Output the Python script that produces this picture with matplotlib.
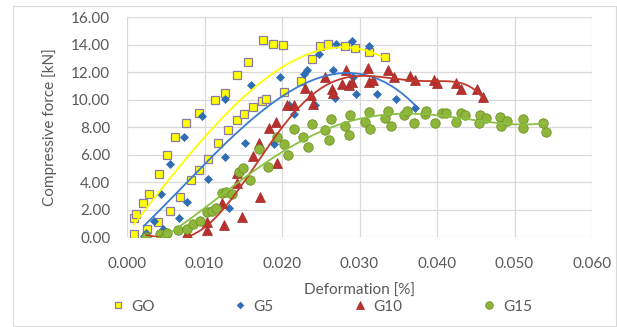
import numpy as np
import matplotlib
matplotlib.use("Agg")
import matplotlib.pyplot as plt
from matplotlib.patches import Rectangle

plt.rcParams['font.family'] = ['Lato', 'DejaVu Sans']

# ---- data (deformation [%], compressive force [kN]) ----
go_x = [0.0009,0.0009,0.0012,0.0021,0.0026,0.0028,0.0040,0.0041,0.0051,0.0056,0.0062,0.0069,0.0076,0.0082,0.0093,0.0093,0.0104,0.0113,0.0117,0.0126,0.0130,0.0142,0.0142,0.0151,0.0156,0.0163,0.0174,0.0176,0.0179,0.0189,0.0201,0.0202,0.0225,0.0239,0.0249,0.0259,0.0281,0.0294,0.0312,0.0333]
go_y = [0.22,1.43,1.72,2.47,0.63,3.13,1.09,4.60,5.96,1.92,7.32,2.93,8.29,4.17,9.02,4.87,5.70,9.99,6.84,10.47,7.81,11.80,8.53,8.97,12.73,9.48,9.92,14.33,10.04,14.08,14.01,10.59,11.35,12.95,13.94,14.04,13.92,13.75,13.50,13.09]

g5_x = [0.0022,0.0025,0.0035,0.0044,0.0047,0.0056,0.0067,0.0074,0.0078,0.0097,0.0104,0.0127,0.0127,0.0131,0.0152,0.0160,0.0190,0.0197,0.0209,0.0215,0.0229,0.0232,0.0242,0.0248,0.0266,0.0269,0.0270,0.0290,0.0292,0.0296,0.0312,0.0322,0.0347,0.0372]
g5_y = [0.10,0.34,1.19,3.13,0.63,5.31,1.38,7.32,2.59,8.85,4.24,10.08,5.87,2.16,6.88,11.08,6.79,11.68,9.62,8.95,11.88,12.17,9.60,13.33,12.17,10.16,14.08,14.28,11.64,10.40,13.94,10.40,10.04,9.43]

g10_x = [0.0025,0.0050,0.0078,0.0103,0.0103,0.0123,0.0125,0.0142,0.0142,0.0149,0.0162,0.0170,0.0172,0.0183,0.0192,0.0194,0.0206,0.0215,0.0230,0.0237,0.0240,0.0256,0.0264,0.0266,0.0278,0.0283,0.0287,0.0290,0.0311,0.0312,0.0317,0.0337,0.0345,0.0365,0.0371,0.0396,0.0400,0.0425,0.0431,0.0451,0.0459]
g10_y = [0.05,0.05,0.29,1.14,0.53,2.47,0.90,4.65,3.93,1.50,5.92,6.84,2.91,7.98,8.41,5.38,9.62,9.62,10.84,10.35,9.70,11.66,10.76,10.52,11.18,12.17,11.08,11.32,12.29,11.32,11.44,12.17,11.64,11.73,11.44,11.44,11.25,11.25,10.76,10.76,10.23]

g15_x = [0.0024,0.0042,0.0049,0.0051,0.0066,0.0077,0.0085,0.0094,0.0103,0.0110,0.0115,0.0122,0.0128,0.0135,0.0145,0.0150,0.0159,0.0170,0.0182,0.0194,0.0202,0.0208,0.0215,0.0227,0.0234,0.0239,0.0255,0.0261,0.0263,0.0281,0.0286,0.0288,0.0307,0.0312,0.0314,0.0333,0.0337,0.0341,0.0358,0.0361,0.0370,0.0384,0.0386,0.0397,0.0406,0.0412,0.0425,0.0431,0.0436,0.0454,0.0456,0.0463,0.0481,0.0482,0.0490,0.0511,0.0511,0.0537,0.0540]
g15_y = [0.00,0.22,0.00,0.29,0.53,0.58,0.97,1.21,1.87,1.92,2.11,3.20,3.32,3.15,4.78,5.02,4.17,6.40,5.14,7.32,6.79,5.99,7.85,7.32,6.59,8.24,7.81,7.08,8.58,8.10,7.44,8.90,8.41,9.09,7.85,8.70,9.19,8.10,8.90,9.21,8.29,8.97,9.19,8.34,9.07,9.07,8.41,9.02,8.90,8.34,8.90,8.70,8.78,8.10,8.48,8.61,7.93,8.34,7.64]

labels = ["GO", "G5", "G10", "G15"]
x_ticks = [0.000, 0.010, 0.020, 0.030, 0.040, 0.050, 0.060]
y_ticks = [0, 2, 4, 6, 8, 10, 12, 14, 16]

# ---- figure ----
W, H = 617, 327
fig = plt.figure(figsize=(W/100, H/100), dpi=100)
fig.patches.append(Rectangle((12.5/W, 1-326/H), (616-12.5)/W, (326-6)/H,
                             transform=fig.transFigure, fill=False,
                             edgecolor='#d9d9d9', linewidth=0.8))
ax = fig.add_axes([127/W, 1-237.3/H, (592-127)/W, (237.3-17.3)/H])

series = [
    (go_x, go_y, dict(marker='s', ms=6.2, mfc='#ffff00', mec='#8a7aa8', mew=0.9), '#ffff00', 3),
    (g5_x, g5_y, dict(marker='D', ms=4.2, mfc='#2f6db5', mec='#2f6db5', mew=0.5), '#3a7bd0', 3),
    (g10_x, g10_y, dict(marker='^', ms=6.5, mfc='#b8312f', mec='#a02826', mew=0.5), '#c0392b', 6),
    (g15_x, g15_y, dict(marker='o', ms=6.8, mfc='#8fb63a', mec='#6e9424', mew=0.6), '#8dc043', 4),
]

handles = []
for (xs, ys, mk, lc, deg), lab in zip(series, labels):
    h, = ax.plot(xs, ys, linestyle='none', label=lab, zorder=3, **mk)
    handles.append(h)

for (xs, ys, mk, lc, deg) in series:
    xs = np.asarray(xs); ys = np.asarray(ys)
    c = np.polyfit(xs, ys, deg)
    xx = np.linspace(xs.min(), xs.max(), 200)
    ax.plot(xx, np.polyval(c, xx), color=lc, lw=1.3, zorder=4)

ax.set_xlim(0, 0.06)
ax.set_ylim(0, 16)
ax.set_xticks(x_ticks)
ax.set_yticks(y_ticks)
ax.set_xticklabels([f"{v:.3f}" for v in x_ticks])
ax.set_yticklabels([f"{v:.2f}" for v in y_ticks])
ax.tick_params(length=0, labelsize=11, colors='#595959')
ax.tick_params(axis='x', pad=14.5)
ax.tick_params(axis='y', pad=12)
for s in ax.spines.values():
    s.set_visible(False)
ax.grid(True, color='#d9d9d9', lw=0.9)
ax.set_axisbelow(True)
ax.set_xlabel("Deformation [%]", fontsize=11, color='#595959', labelpad=9)
ax.set_ylabel("Compressive force [kN]", fontsize=11, color='#595959', labelpad=10)

# legend entries placed individually (marker centres)
marker_px = [118, 240, 360, 489]
fs = 11
hl = 1.0
half_handle = hl * fs * 100 / 72 / 2
for h, lab, mx in zip(handles, labels, marker_px):
    lg = fig.legend(handles=[h], labels=[lab], loc='center left',
                    bbox_to_anchor=((mx - half_handle) / W, 1 - 306.7 / H),
                    frameon=False, fontsize=fs, handlelength=hl, handletextpad=0.4,
                    markerscale=0.8, borderaxespad=0, borderpad=0)
    for t in lg.get_texts():
        t.set_color('#595959')

fig.savefig("out.png", dpi=100)
